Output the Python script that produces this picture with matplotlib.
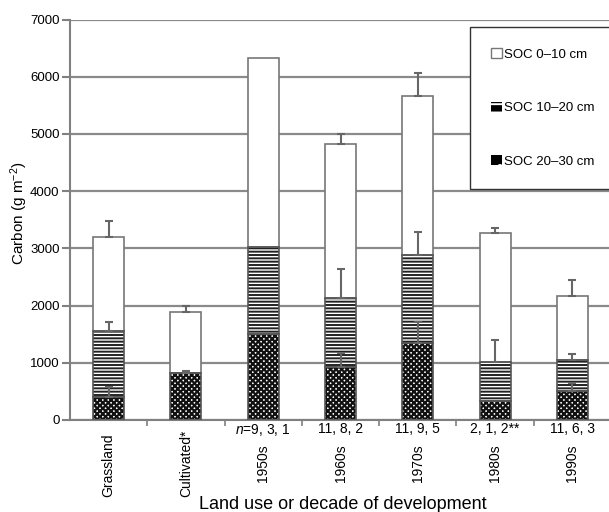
import numpy as np
import matplotlib
matplotlib.use('Agg')
import matplotlib.pyplot as plt
from matplotlib.patches import Patch

plt.rcParams['font.family'] = ['Liberation Sans', 'DejaVu Sans']
plt.rcParams['mathtext.fontset'] = 'custom'
plt.rcParams['mathtext.rm'] = 'Liberation Sans'
plt.rcParams['mathtext.it'] = 'Liberation Sans:italic'

# data (g C m-2)
categories = ['Grassland', 'Cultivated*', '1950s', '1960s', '1970s', '1980s', '1990s']
n_labels = ['', '', '$n$=9, 3, 1', '11, 8, 2', '11, 9, 5', '2, 1, 2**', '11, 6, 3']
soc_20_30 = [400, 815, 1500, 920, 1340, 340, 510]
soc_10_20 = [1155, 0, 1520, 1210, 1545, 680, 540]
soc_0_10 = [1640, 1070, 3310, 2695, 2780, 2250, 1120]
err_20_30 = [170, 45, 0, 255, 380, 0, 140]
err_10_20 = [155, 0, 0, 510, 405, 380, 105]
err_0_10 = [280, 115, 0, 175, 395, 95, 280]

x = np.arange(len(categories))
w = 0.40
b1 = np.array(soc_20_30)
b2 = b1 + np.array(soc_10_20)
b3 = b2 + np.array(soc_0_10)

fig = plt.figure(figsize=(6.09, 5.12), dpi=100)
ax = fig.add_axes([70/609, 1-420/512, 541/609, 400.4/512])

# bars (hatch drawn in edgecolor, outline drawn on top in gray)
plt.rcParams['hatch.linewidth'] = 1.6
ax.bar(x, soc_20_30, w, color='white', edgecolor='#111111', hatch='xxxxxx', lw=0, zorder=2)
plt.rcParams['hatch.linewidth'] = 1.4
ax.bar(x, soc_10_20, w, bottom=b1, color='white', edgecolor='#222222', hatch='-----', lw=0, zorder=2)
ax.bar(x, soc_0_10, w, bottom=b2, color='white', edgecolor='#777777', lw=1.2, zorder=2)
ax.bar(x, soc_20_30, w, fill=False, edgecolor='#555555', lw=1.2, zorder=3)
ax.bar(x, soc_10_20, w, bottom=b1, fill=False, edgecolor='#555555', lw=1.2, zorder=3)

# one-sided error bars
for tops, err in [(b1, err_20_30), (b2, err_10_20), (b3, err_0_10)]:
    err = np.array(err)
    m = err > 0
    ax.errorbar(x[m], tops[m], yerr=[np.zeros(m.sum()), err[m]], fmt='none',
                ecolor='#666666', elinewidth=1.5, capsize=3, capthick=1.5, zorder=4)

ax.set_xlim(-0.5, 6.5)
ax.set_ylim(0, 7000)
ax.set_yticks(range(0, 7001, 1000))
ax.yaxis.grid(True, color='#8a8a8a', lw=1.6)
ax.set_axisbelow(True)
for s in ['top', 'right']:
    ax.spines[s].set_visible(False)
for s in ['left', 'bottom']:
    ax.spines[s].set_color('#808080')
    ax.spines[s].set_linewidth(1.5)
ax.tick_params(axis='y', length=6, width=1.5, color='#808080', labelsize=9.5, pad=1.5)
ax.set_xticks([])
ax.set_xticks(np.arange(0.5, 6.5, 1), minor=True)
ax.tick_params(axis='x', which='minor', length=4, width=1.2, color='#808080')

# category labels
tr = ax.get_xaxis_transform()
for i, c in enumerate(categories):
    if n_labels[i]:
        ax.text(i, -0.005, n_labels[i], transform=tr, ha='center', va='top', fontsize=10)
        ax.text(i, -0.06, c, transform=tr, ha='center', va='top', rotation=90, fontsize=10)
    else:
        ax.text(i, -0.1925, c, transform=tr, ha='center', va='bottom', rotation=90, fontsize=10)

fig.text(343/609, 1-496/512, 'Land use or decade of development', ha='center', va='top', fontsize=13)
fig.text(19/609, 1-213/512, 'Carbon (g m$^{-2}$)', ha='center', va='center', rotation=90, fontsize=11)

handles = [Patch(facecolor='white', edgecolor='#777777', lw=1),
           Patch(facecolor='black', edgecolor='white', hatch='--', lw=0),
           Patch(facecolor='black', edgecolor='white', hatch='.', lw=0)]
leg = ax.legend(handles, ['SOC 0\u201310 cm', 'SOC 10\u201320 cm', 'SOC 20\u201330 cm'],
                loc='upper left', bbox_to_anchor=(470/609, 1-27/512), bbox_transform=fig.transFigure,
                fontsize=9.5, handlelength=0.8, handleheight=0.8, handletextpad=0.15,
                labelspacing=3.1, borderpad=1.6, borderaxespad=0, fancybox=False, framealpha=1)
leg.get_frame().set_edgecolor('#333333')
leg.get_frame().set_linewidth(1.0)

fig.savefig('out.png', dpi=100)
